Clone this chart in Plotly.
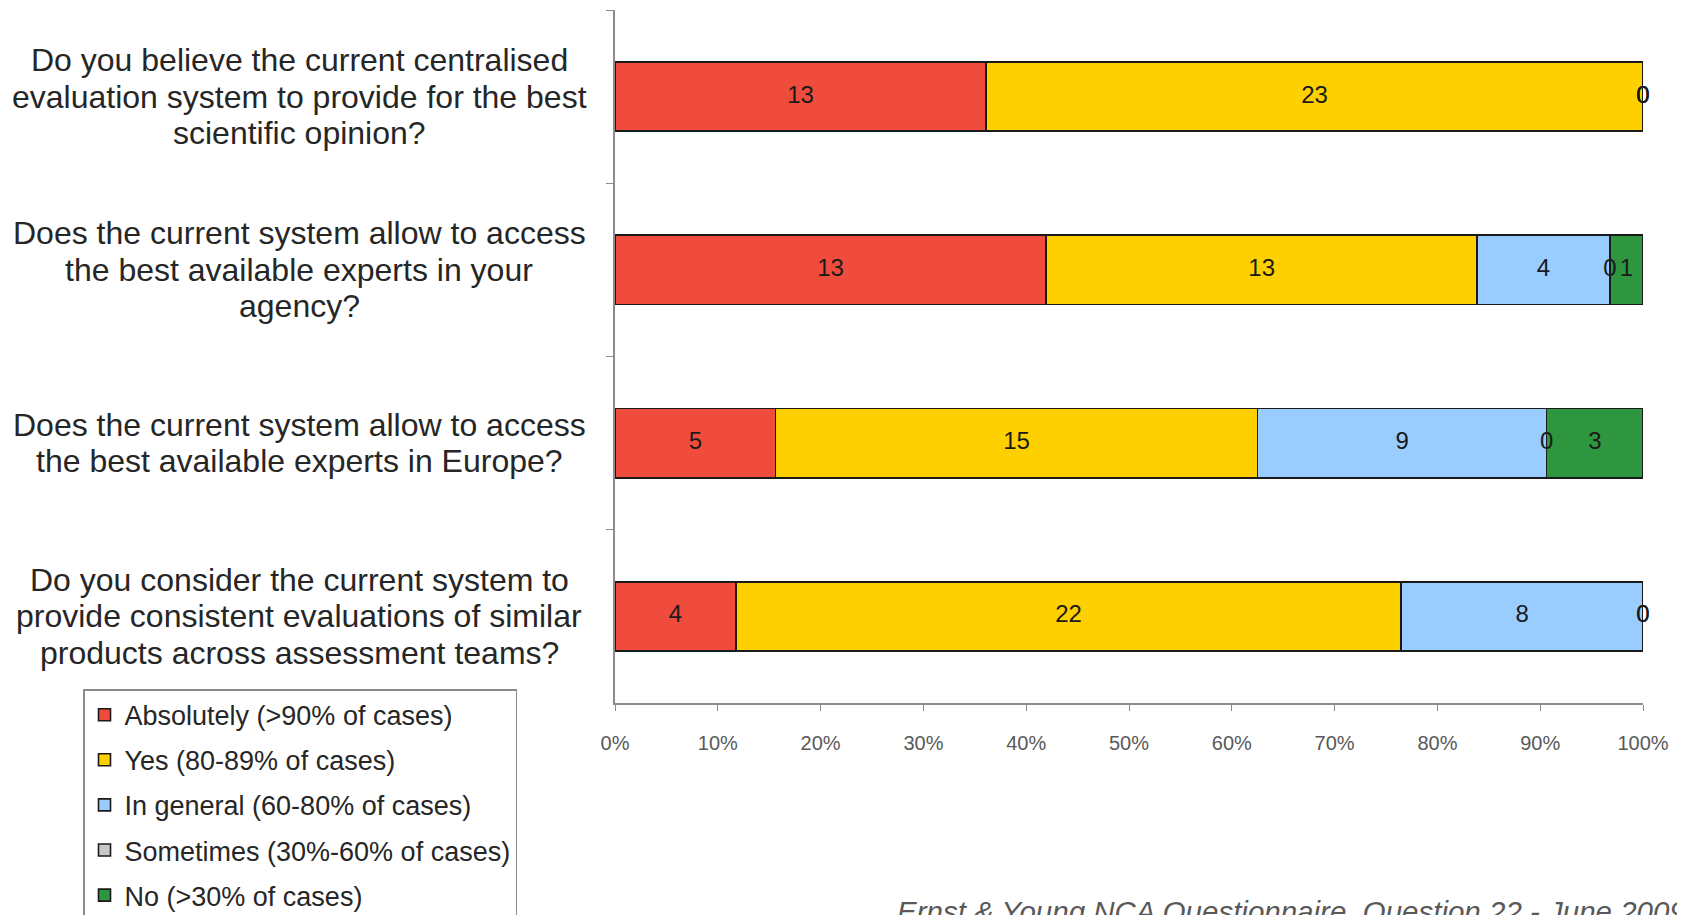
import plotly.graph_objects as go

questions = [
    "Do you believe the current centralised<br>evaluation system to provide for the best<br>scientific opinion?",
    "Does the current system allow to access<br>the best available experts in your<br>agency?",
    "Does the current system allow to access<br>the best available experts in Europe?",
    "Do you consider the current system to<br>provide consistent evaluations of similar<br>products across assessment teams?",
]
cat_ids = ["Q1", "Q2", "Q3", "Q4"]

series_names = [
    "Absolutely (>90% of cases)",
    "Yes (80-89% of cases)",
    "In general (60-80% of cases)",
    "Sometimes (30%-60% of cases)",
    "No (>30% of cases)",
]
absolutely = [13, 13, 5, 4]
yes = [23, 13, 15, 22]
in_general = [0, 4, 9, 8]
sometimes = [0, 0, 0, 0]
no = [0, 1, 3, 0]
series_values = [absolutely, yes, in_general, sometimes, no]
colors = ["#EF4C3D", "#FFD000", "#99CCFF", "#C8C8C8", "#2E963E"]

x_ticks = [0, 10, 20, 30, 40, 50, 60, 70, 80, 90, 100]
x_ticklabels = [f"{t}%" for t in x_ticks]

footer = "Ernst & Young NCA Questionnaire, Question 22 - June 2009"

FONT = "Liberation Sans, Arial"

fig = go.Figure()
for name, vals, col in zip(series_names, series_values, colors):
    fig.add_trace(go.Bar(
        y=cat_ids, x=vals, name=name, orientation="h",
        marker=dict(color=col, line=dict(color="#1a1a1a", width=1.6)),
        legendgroup=name, width=0.4,
    ))

# value labels at the centre of each segment (computed from the data)
tx, ty, tt = [], [], []
for i, cid in enumerate(cat_ids):
    total = sum(v[i] for v in series_values)
    cum = 0
    for vals in series_values:
        v = vals[i]
        tx.append((cum + v / 2) / total * 100)
        ty.append(cid)
        tt.append(str(v))
        cum += v
fig.add_trace(go.Scatter(
    x=tx, y=ty, text=tt, mode="text", showlegend=False, cliponaxis=False,
    textfont=dict(family=FONT, size=24, color="#1a1a1a"),
    hoverinfo="skip",
))

LINE_GAP = 36.5
for cid, q in zip(cat_ids, questions):
    lines = q.split("<br>")
    n = len(lines)
    for k, line in enumerate(lines):
        fig.add_annotation(
            x=-0.307, xref="paper", y=cid, yref="y", text=line, showarrow=False,
            xanchor="center", yanchor="middle", align="center",
            yshift=-(k - (n - 1) / 2) * LINE_GAP,
            font=dict(family=FONT, size=32, color="#262626"),
        )

fig.add_annotation(
    x=1.044, xref="paper", y=-0.2745, yref="paper", text=footer, showarrow=False,
    xanchor="right", yanchor="top",
    font=dict(family=FONT, size=29.5, color="#595959", style="italic"),
)

fig.update_layout(
    width=1685, height=915,
    margin=dict(l=607, r=50, t=2, b=220, autoexpand=False),
    barmode="stack", barnorm="percent",
    plot_bgcolor="white", paper_bgcolor="white",
    font=dict(family=FONT, color="#262626"),
    legend=dict(
        x=-0.5175, y=0.020, xanchor="left", yanchor="top",
        bordercolor="#8c8c8c", borderwidth=1.5, bgcolor="white",
        font=dict(size=27, color="#262626"), tracegroupgap=7,
        traceorder="grouped", itemwidth=30,
    ),
    xaxis=dict(
        range=[0, 100], tickvals=x_ticks, ticktext=x_ticklabels,
        showgrid=False, zeroline=False, showline=True, linecolor="#8c8c8c", linewidth=1.5,
        ticks="outside", ticklen=6, tickcolor="#8c8c8c",
        tickfont=dict(size=20, color="#595959"), ticklabelstandoff=15,
    ),
    yaxis=dict(
        categoryorder="array", categoryarray=cat_ids, autorange="reversed",
        showticklabels=False, showgrid=False, zeroline=False,
        showline=True, linecolor="#8c8c8c", linewidth=1.5,
        ticks="outside", ticklen=7, tickcolor="#8c8c8c", tickson="boundaries",
    ),
)

fig.write_html("out.html")
